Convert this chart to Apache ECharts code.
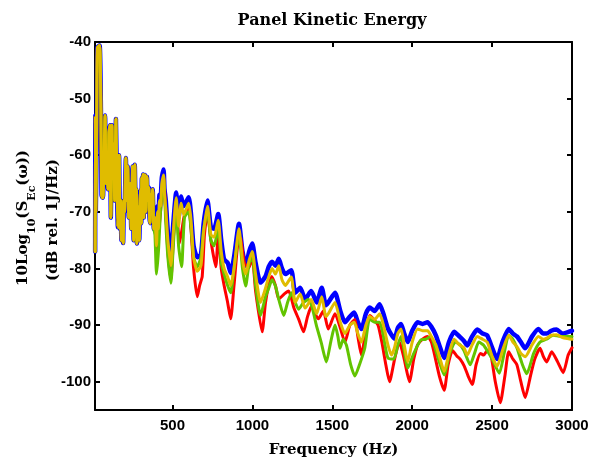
<!DOCTYPE html>
<html>
<head>
<meta charset="utf-8">
<script src="https://cdn.jsdelivr.net/npm/echarts@6/dist/echarts.min.js"></script>
<style>
  html, body { margin: 0; padding: 0; background: #fff; }
  #chart { width: 601px; height: 463px; }
</style>
</head>
<body>
<div id="chart"></div>
<script>
// tick positions
var xTicks = [500, 1000, 1500, 2000, 2500, 3000];
var yTicks = [-100, -90, -80, -70, -60, -50, -40];

// below ~380 Hz all four curves lie on top of each other
var lowBand = [[16,-77],[17,-53],[20,-70],[25,-58],[30,-41],[44,-40.6],[52,-52],[56,-67],[62,-67.5],[66,-67],
  [72,-60],[78,-53],[84,-65],[90,-60],[96,-66],[102,-56],[109,-54.7],[114,-71],[121,-54.7],[126,-64],
  [132,-58],[138,-68],[146,-53.6],[152,-65],[158,-72.7],[163,-66],[166,-60],[171,-73],[176,-68],[180,-75],
  [186,-70],[191,-75.5],[196,-68],[200,-70],[208,-60.5],[214,-68],[220,-62],[226,-71],[231,-66],[235,-65],
  [242,-73],[246,-68],[250,-62],[257,-75],[264,-61.7],[270,-70],[274,-66],[277,-75.6],[281,-69],[285,-70],
  [292,-75],[297,-68],[301,-66],[305,-72],[308,-64],[312,-70],[316,-63.4],[320,-71],[324,-64],[328,-63.5],
  [333,-70],[337,-64],[340,-63.8],[345,-68],[352,-65.7],[356,-71],[360,-72],[364,-67],[368,-70],[376,-66],
  [383,-73]];

// blue curve above 380 Hz
var blueTail = [[390,-70],[400,-74.8],[406,-69],[412,-72],[418,-67],[425,-68],[433,-64],[444,-62.5],[450,-66],[458,-68],
  [471,-73.5],[490,-77.5],[505,-72],[523,-66.6],
  [538,-71],[554,-67.3],[570,-69],[601,-67.4],[616,-70.4],[632,-76],[655,-78],[678,-77.5],[695,-72],[719,-68],
  [740,-72.7],[760,-73],[786,-70.4],[805,-75],[823,-78.4],[845,-79],[864,-80.8],[885,-78],[916,-72.1],[938,-77],
  [958,-79.5],[980,-77],[999,-75.6],[1020,-79],[1051,-82.5],[1082,-81.4],[1102,-79.7],[1123,-78.8],[1144,-79.5],[1165,-78.3],
  [1185,-80],[1206,-81],[1243,-80.3],[1268,-84.3],[1299,-83.4],[1330,-85.4],[1368,-84],[1402,-86],[1434,-83.4],[1460,-86.5],
  [1475,-86],[1517,-84.3],[1550,-87.5],[1579,-89.5],[1610,-88.5],[1637,-87.8],[1660,-89.5],[1682,-90.7],[1710,-88],[1734,-86.9],
  [1765,-87.5],[1796,-86.3],[1820,-88],[1848,-90.6],[1889,-92.4],[1910,-90.5],[1930,-89.8],[1950,-91.5],[1972,-93],[2000,-91],
  [2034,-89.5],[2065,-89.8],[2096,-89.5],[2120,-90.3],[2148,-91.8],[2175,-94],[2200,-95.8],[2230,-93],[2262,-91.2],[2295,-92],
  [2324,-92.8],[2345,-93.6],[2375,-92],[2407,-90.8],[2440,-91.5],[2469,-91.8],[2500,-94],[2531,-96],[2565,-93],[2604,-90.7],
  [2630,-91.5],[2655,-92],[2680,-93],[2707,-94.1],[2750,-92],[2790,-90.7],[2820,-91.5],[2842,-91.5],[2870,-91],[2904,-90.8],
  [2940,-91.5],[2978,-91.2],[3000,-91]];

// yellow curve above 380 Hz
var yellowTail = [[390,-71],[400,-76],[406,-70],[412,-73],[418,-68],[425,-69],[433,-65],[444,-63.5],[450,-67],[458,-69.5],
  [471,-75],[490,-79.5],[505,-73.5],[523,-67.5],
  [538,-72.5],[554,-68.5],[570,-70.5],[601,-68.5],[616,-71.5],[632,-78],[655,-80.5],[678,-79.5],[695,-73.5],[719,-69],
  [740,-74],[760,-74.5],[786,-71.5],[805,-77],[823,-80],[845,-81.5],[864,-83],[885,-80],[916,-73],[938,-78.5],
  [958,-81],[980,-78.5],[999,-77],[1020,-81],[1051,-86],[1082,-83.5],[1102,-81.5],[1123,-80],[1144,-81],[1165,-79.5],
  [1185,-82],[1206,-83],[1243,-81.5],[1268,-86],[1299,-84.5],[1330,-87],[1368,-85.5],[1402,-88],[1434,-85],[1460,-88.5],
  [1475,-88],[1517,-86],[1550,-89.5],[1579,-91.5],[1610,-90],[1637,-89.5],[1660,-91.5],[1682,-93],[1710,-90],[1734,-88.5],
  [1765,-89],[1796,-88],[1820,-90],[1848,-93.5],[1870,-95.3],[1889,-94],[1910,-91.5],[1930,-90.7],[1950,-93.5],[1972,-96.5],
  [2000,-93],[2034,-90.7],[2065,-91],[2096,-91],[2120,-92],[2148,-93.5],[2175,-96],[2200,-98.2],[2230,-95],[2262,-92.5],
  [2295,-93.5],[2324,-94],[2345,-95.3],[2375,-93.5],[2407,-92],[2440,-92.5],[2469,-93],[2500,-95.5],[2531,-97.3],[2565,-94.5],
  [2604,-91.8],[2630,-93],[2655,-93.8],[2680,-95],[2707,-95.6],[2750,-93.5],[2790,-92],[2820,-92.5],[2842,-92.3],[2870,-91.8],
  [2904,-91.7],[2940,-92.2],[2978,-92.4],[3000,-92.5]];

// green curve above 380 Hz
var greenTail = [[390,-74],[400,-81],[412,-77],[425,-70],[444,-64],[458,-72],[471,-78],[490,-82.6],[505,-76],[523,-69],
  [538,-76],[557,-79.7],[575,-71],[601,-70],[616,-73],[632,-78],[655,-79.7],[678,-78],[695,-73],[719,-70],
  [740,-75],[760,-76],[786,-73],[805,-79],[823,-81],[845,-83],[864,-84.3],[885,-80],[916,-74],[938,-80],
  [958,-83.1],[980,-79],[999,-78],[1020,-83],[1051,-88.3],[1082,-85],[1102,-83.5],[1123,-82],[1144,-83.1],[1170,-86],
  [1196,-88.3],[1220,-86],[1245,-84.3],[1268,-86],[1289,-87.2],[1320,-86],[1351,-85.5],[1375,-87],[1400,-90],[1430,-93],
  [1463,-96.5],[1490,-93],[1517,-90],[1535,-92],[1548,-94.1],[1568,-92.5],[1589,-93.6],[1615,-97],[1641,-99],[1670,-97],
  [1703,-94.1],[1734,-88.9],[1765,-89.5],[1796,-89.5],[1820,-92],[1848,-95.8],[1885,-96],[1910,-93.5],[1930,-92],[1950,-94.5],
  [1972,-97.6],[2010,-95],[2055,-92.6],[2085,-92.5],[2115,-92],[2148,-94.5],[2175,-97],[2200,-98.8],[2235,-95],[2270,-93],
  [2300,-93.5],[2324,-94.5],[2363,-97],[2390,-95],[2417,-93],[2445,-93.5],[2469,-94.5],[2500,-96],[2545,-98.5],[2575,-95],
  [2604,-91.8],[2630,-92.5],[2655,-94],[2690,-97],[2717,-98.6],[2760,-95],[2800,-93],[2840,-92.5],[2883,-91.8],[2930,-92],
  [2978,-92],[3000,-92]];

// red curve above 380 Hz
var redTail = [[390,-73],[400,-77],[412,-74],[425,-70],[444,-63.8],[458,-70],[471,-77],[490,-82],[505,-75],[523,-68],
  [543,-75.6],[560,-73],[575,-70.5],[601,-69],[616,-73],[632,-80],[655,-85],[670,-83],[686,-81.4],[700,-74],
  [719,-70],[740,-75],[771,-79.7],[786,-74],[805,-80],[823,-83],[845,-86],[864,-88.9],[885,-83],[916,-74.5],
  [927,-74.7],[950,-79],[978,-79.9],[999,-78],[1020,-84],[1061,-91.2],[1082,-86],[1102,-83],[1121,-81.4],[1144,-83],
  [1165,-85.4],[1200,-84.5],[1227,-84],[1260,-87],[1290,-89],[1320,-91.2],[1345,-88.5],[1371,-86.6],[1392,-88],[1413,-88.9],
  [1444,-87.5],[1475,-90.7],[1517,-88],[1550,-90.5],[1579,-93],[1610,-90],[1641,-89],[1660,-92],[1682,-95.3],[1710,-91],
  [1734,-88.3],[1760,-89],[1786,-90],[1810,-93],[1835,-97],[1858,-100],[1890,-96],[1920,-93],[1950,-96],[1983,-100],
  [2010,-96],[2034,-93.5],[2065,-92.5],[2096,-92],[2120,-93],[2138,-95],[2170,-99],[2200,-101.5],[2225,-97],[2252,-94.5],
  [2280,-95.5],[2300,-96],[2325,-97.2],[2350,-99],[2376,-100.5],[2400,-97],[2427,-95],[2448,-95.3],[2470,-94.5],[2489,-94.7],
  [2520,-100],[2551,-103.7],[2580,-99],[2604,-94.7],[2630,-96],[2655,-97],[2680,-100],[2707,-102.8],[2740,-99],[2767,-96],
  [2800,-94.1],[2820,-95.5],[2842,-96.5],[2873,-94.7],[2910,-96.5],[2945,-98.4],[2976,-95.3],[3000,-94]];

var tickFont = { fontFamily: 'Liberation Sans', fontWeight: 'bold', fontSize: 15, color: '#000' };
var nameFont = 'DejaVu Serif';

function curve(name, tail, color, width) {
  return {
    name: name,
    type: 'line',
    data: lowBand.concat(tail),
    showSymbol: false,
    smooth: 0.2,
    lineStyle: { color: color, width: width, join: 'round', cap: 'round' },
    itemStyle: { color: color }
  };
}

function plain(v) { return String(v); }

var myChart = echarts.init(document.getElementById('chart'));
var option = {
  animation: false,
  backgroundColor: '#fff',
  title: {
    text: 'Panel Kinetic Energy',
    left: 327, top: 8, textAlign: 'center',
    textStyle: { fontFamily: nameFont, fontWeight: 'bold', fontSize: 16, color: '#000' }
  },
  grid: { left: 95, right: 29, top: 42, bottom: 47 },
  xAxis: [{
    type: 'value', min: 15, max: 3000,
    name: 'Frequency (Hz)', nameLocation: 'middle', nameGap: 33,
    nameTextStyle: { fontFamily: nameFont, fontWeight: 'bold', fontSize: 15, color: '#000' },
    axisLine: { lineStyle: { color: '#000', width: 2 } },
    axisTick: { inside: true, length: 5, customValues: xTicks, lineStyle: { color: '#000', width: 2 } },
    axisLabel: Object.assign({ customValues: xTicks, margin: 8, formatter: plain }, tickFont),
    splitLine: { show: false }
  }, {
    type: 'value', min: 15, max: 3000, position: 'top',
    axisLine: { lineStyle: { color: '#000', width: 2 } },
    axisTick: { inside: true, length: 5, customValues: xTicks, lineStyle: { color: '#000', width: 2 } },
    axisLabel: { show: false },
    splitLine: { show: false }
  }],
  yAxis: [{
    type: 'value', min: -105, max: -40,
    axisLine: { lineStyle: { color: '#000', width: 2 } },
    axisTick: { inside: true, length: 5, customValues: yTicks, lineStyle: { color: '#000', width: 2 } },
    axisLabel: Object.assign({ customValues: yTicks, margin: 4, formatter: plain }, tickFont),
    splitLine: { show: false }
  }, {
    type: 'value', min: -105, max: -40, position: 'right',
    axisLine: { lineStyle: { color: '#000', width: 2 } },
    axisTick: { inside: true, length: 5, customValues: yTicks, lineStyle: { color: '#000', width: 2 } },
    axisLabel: { show: false },
    splitLine: { show: false }
  }],
  graphic: [{
    type: 'text', x: 27, y: 218, rotation: Math.PI / 2,
    style: {
      text: '{a|10Log}{s|10}{a|(S}{s|Ec}{a|(\u03c9))}',
      align: 'center', verticalAlign: 'middle', fill: '#000',
      rich: {
        a: { fontFamily: nameFont, fontWeight: 'bold', fontSize: 15, lineHeight: 22, verticalAlign: 'top' },
        s: { fontFamily: nameFont, fontWeight: 'bold', fontSize: 11, lineHeight: 11, verticalAlign: 'bottom' }
      }
    }
  }, {
    type: 'text', x: 53, y: 220, rotation: Math.PI / 2,
    style: {
      text: '(dB rel. 1J/Hz)',
      align: 'center', verticalAlign: 'middle', fill: '#000',
      fontFamily: nameFont, fontWeight: 'bold', fontSize: 15
    }
  }],
  series: [
    curve('blue', blueTail, '#0000ff', 4.5),
    curve('red', redTail, '#ff0000', 3),
    curve('green', greenTail, '#62c400', 3),
    curve('yellow', yellowTail, '#e0bc00', 3)
  ]
};
myChart.setOption(option);
</script>
</body>
</html>
